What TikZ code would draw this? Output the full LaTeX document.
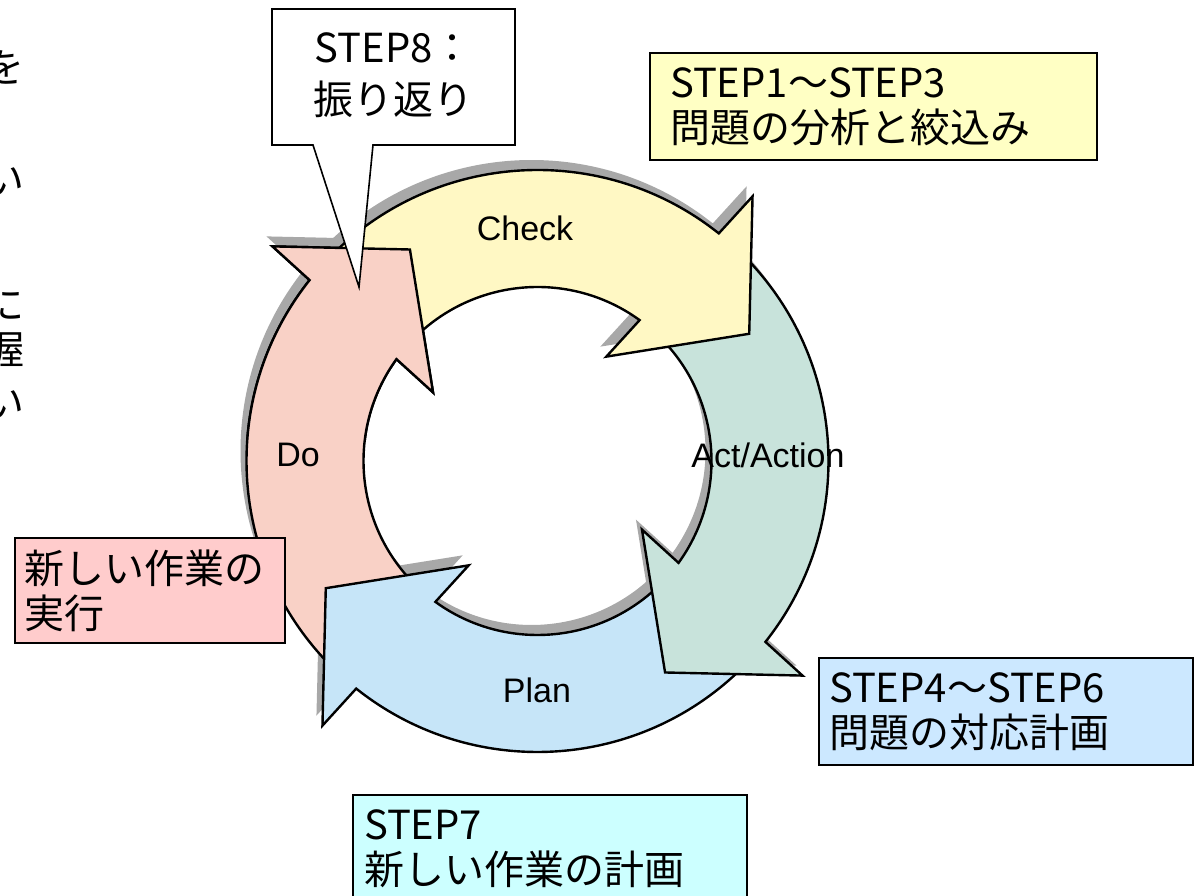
\documentclass[tikz,border=0pt]{standalone}
\usepackage{fontspec}
\setmainfont{Noto Sans CJK JP}
\newfontfamily\labelfont{Liberation Sans}
\definecolor{checkfill}{HTML}{FFF8C4}
\definecolor{dofill}{HTML}{F9D1C6}
\definecolor{actfill}{HTML}{C8E3DB}
\definecolor{planfill}{HTML}{C6E5F8}
\definecolor{ringshade}{HTML}{A8A8A8}
\definecolor{yellowbox}{HTML}{FFFFC4}
\definecolor{pinkbox}{HTML}{FFCCCC}
\definecolor{bluebox}{HTML}{CCE8FF}
\definecolor{cyanbox}{HTML}{CCFFFF}

% one arrow of the cycle: [options]{tail angle}{barb angle}
\newcommand{\ringarrow}[3][]{%
  \path[#1] (#2:291) arc[start angle=#2, end angle={#3+0.56}, radius=291]
    -- (#3:341) -- ({#3-19.9}:247) -- ({#3+5.7}:125) -- ({#3+3.16}:174)
    arc[start angle={#3+3.16}, end angle=#2, radius=174] -- cycle;}

\begin{document}
\begin{tikzpicture}[x=1pt, y=1pt,
  arrowbody/.style={draw, line width=2.4pt, line join=miter},
  ringlabel/.style={font=\labelfont\fontsize{34}{40}\selectfont},
  stepbox/.style={draw, line width=1.6pt, align=left, inner ysep=2pt,
    minimum height=107pt, font=\fontsize{40}{45}\selectfont},
  cuttext/.style={inner sep=0pt, font=\fontsize{40}{45}\selectfont}]
\useasboundingbox (0,0) rectangle (1197,896);

% text cut off at the left edge
\node (cut1) [cuttext] at (4,829) {を};
\node (cut2) [cuttext] at (4,715) {い};
\node (cut3) [cuttext] at (4,591) {に};
\node (cut4) [cuttext] at (4,547) {握};
\node (cut5) [cuttext] at (4,492) {い};

% the cycle
\begin{scope}[shift={(537.5,435)}]
  \foreach \tailang/\barbang in {137/50.9, 47/-39, -43/-129.1, -133/-219}
    {\ringarrow[fill=ringshade, shift={(-6,10)}]{\tailang}{\barbang}}
  \ringarrow[arrowbody, fill=dofill]{-133}{-219}
  \ringarrow[arrowbody, fill=planfill]{-43}{-129.1}
  \ringarrow[arrowbody, fill=actfill]{47}{-39}
  \ringarrow[arrowbody, fill=checkfill]{137}{50.9}
  % Do head lies over the Check tail
  \begin{scope}
    \clip (-300,20) rectangle (-80,300);
    \ringarrow[arrowbody, fill=dofill]{-133}{-219}
  \end{scope}
\end{scope}

\node (check) [ringlabel] at (525,668) {Check};
\node (act) [ringlabel] at (768,441) {Act/Action};
\node (plan) [ringlabel] at (537,206) {Plan};
\node (do) [ringlabel] at (298,441) {Do};

% callout
\coordinate (step8tip) at (359,609);
\path[draw, fill=white, line width=1.6pt] (272,887) -- (515,887) -- (515,751)
  -- (373,751) -- (step8tip) -- (313,751) -- (272,751) -- cycle;
\node (step8) [align=center, font=\fontsize{40}{52}\selectfont] at (393.5,821) {STEP8：\\振り返り};

\node (step13) [stepbox, fill=yellowbox, text width=407pt, inner xsep=20pt] at (873.5,789.5) {STEP1～STEP3\\問題の分析と絞込み};
\node (step46) [stepbox, fill=bluebox, text width=354pt, inner xsep=10pt] at (1006,184.5) {STEP4～STEP6\\問題の対応計画};
\node (step7) [stepbox, fill=cyanbox, text width=372pt, inner xsep=11pt] at (550,47.5) {STEP7\\新しい作業の計画};
\node (doing) [stepbox, fill=pinkbox, text width=252pt, inner xsep=9pt, minimum height=105pt] at (150,305.5) {新しい作業の\\実行};
\end{tikzpicture}
\end{document}
